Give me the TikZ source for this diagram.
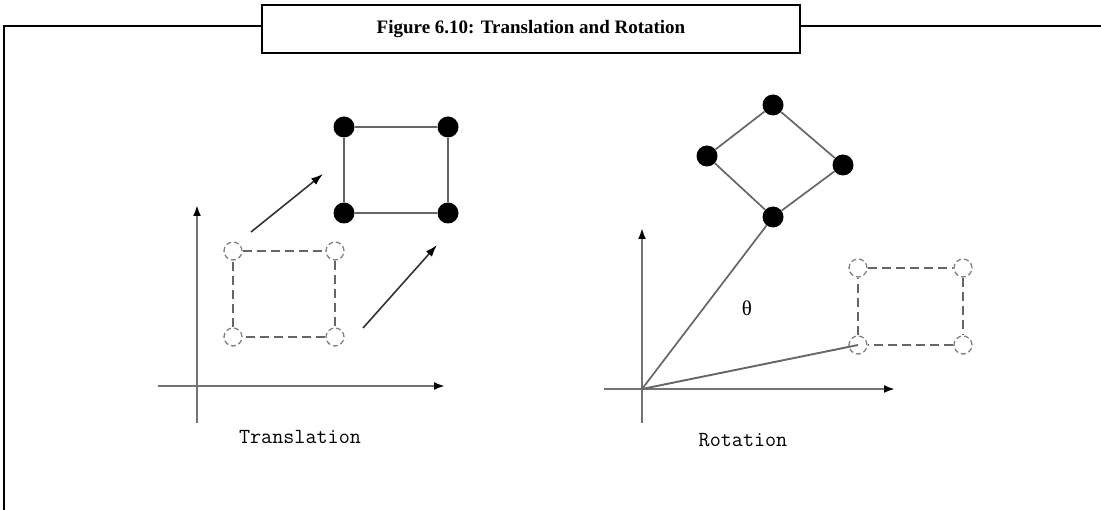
\documentclass[tikz,border=0pt]{standalone}
\usepackage{fontspec}
\setmainfont{Liberation Serif}
\usetikzlibrary{arrows.meta}

\begin{document}
\begin{tikzpicture}[x=1pt,y=-1pt,
  frame/.style={draw=black,line width=2pt},
  titlebox/.style={draw=black,line width=2pt,fill=white,minimum width=538pt,minimum height=48pt,
    font=\bfseries\fontsize{19}{22}\selectfont},
  axis/.style={draw=black!55,line width=2.2pt,-{Latex[length=11pt,width=8pt,color=black]}},
  edge/.style={draw=black!60,line width=2.2pt},
  move/.style={draw=black!80,line width=1.6pt,-{Latex[length=12pt,width=8pt,color=black]}},
  dot/.style={circle,fill=black,inner sep=0pt,minimum size=21pt},
  ghost/.style={circle,draw=black!50,dash pattern=on 5pt off 3pt,line width=1.3pt,inner sep=0pt,minimum size=18pt},
  ghostedge/.style={draw=black!60,dash pattern=on 9pt off 5pt,line width=1.6pt},
  caption/.style={font=\ttfamily\fontsize{21.5}{24}\selectfont,text=black},
]
\useasboundingbox (0,0) rectangle (1101,510);

% frame and title
\node[titlebox] (title) at (531,29) {Figure 6.10: Translation and Rotation};
\coordinate (lt) at (4,26);
\coordinate (rt) at (1101,26);
\draw[frame] (4,510) -- (lt) -- (lt -| title.west);
\draw[frame] (title.east |- rt) -- (rt);

% translation
\draw[axis] (158,386) -- (445,386);
\draw[axis] (197,423) -- (197,205);
\node[ghost] (g1) at (233,251) {};
\node[ghost] (g2) at (335,251) {};
\node[ghost] (g3) at (335,337) {};
\node[ghost] (g4) at (233,337) {};
\draw[ghostedge] (g1) -- (g2) -- (g3) -- (g4) -- (g1);
\node[dot] (d1) at (344,127) {};
\node[dot] (d2) at (448,127) {};
\node[dot] (d3) at (448,213) {};
\node[dot] (d4) at (344,213) {};
\draw[edge] (d1) -- (d2) -- (d3) -- (d4) -- (d1);
\coordinate (m1a) at (251,232);
\coordinate (m1b) at (323,174);
\coordinate (m2a) at (363,328);
\coordinate (m2b) at (437,245);
\draw[move] (m1a) -- (m1b);
\draw[move] (m2a) -- (m2b);
\node[caption] (tlabel) at (300,437) {Translation};

% rotation
\coordinate (orig) at (642,389);
\draw[axis] (604,389) -- (895,389);
\draw[axis] (642,423) -- (642,228);
\node[ghost] (h1) at (858,268) {};
\node[ghost] (h2) at (963,268) {};
\node[ghost] (h3) at (963,345) {};
\node[ghost] (h4) at (858,345) {};
\draw[ghostedge] (h1) -- (h2) -- (h3) -- (h4) -- (h1);
\node[dot] (r1) at (773,105) {};
\node[dot] (r2) at (843,165) {};
\node[dot] (r3) at (773,217) {};
\node[dot] (r4) at (707,156) {};
\draw[edge,line width=1.7pt] (r1) -- (r2) -- (r3) -- (r4) -- (r1);
\draw[edge,line width=1.7pt] (orig) -- (r3);
\draw[edge,line width=1.9pt] (orig) -- (h4.center);
\node[font=\fontsize{21}{24}\selectfont] (angle) at (747,308) {θ};
\node[caption] (rlabel) at (743,440) {Rotation};

\end{tikzpicture}
\end{document}
